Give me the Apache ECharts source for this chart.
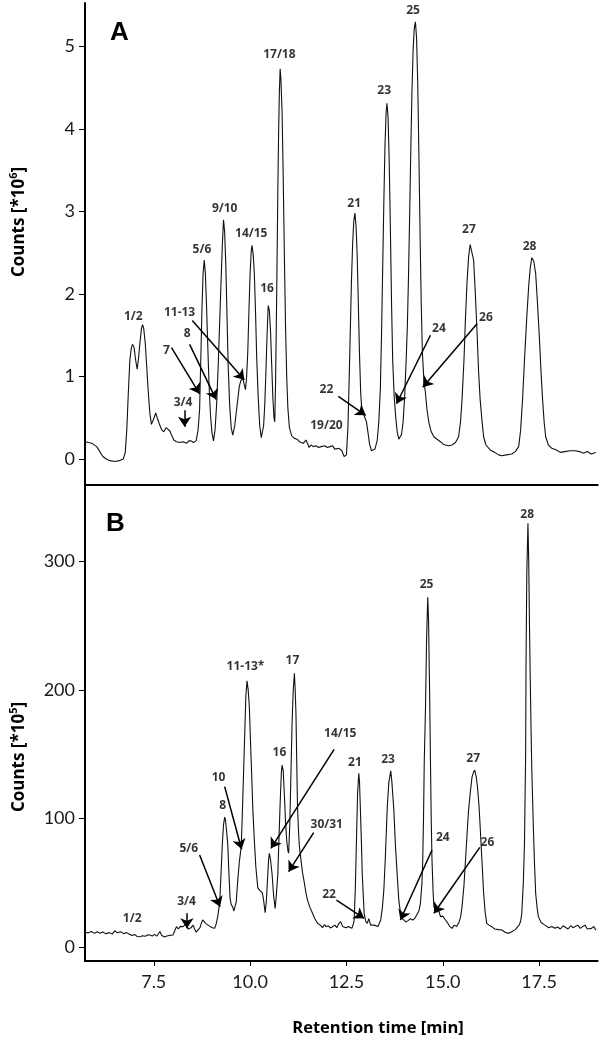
<!DOCTYPE html>
<html>
<head>
<meta charset="utf-8">
<script src="https://cdn.jsdelivr.net/npm/echarts@6/dist/echarts.min.js"></script>
<style>
html,body{margin:0;padding:0;background:#fff;}
#chart{width:600px;height:1055px;}
</style>
</head>
<body>
<div id="chart"></div>
<script>
// ---------- Panel A trace (retention time [min], counts [*10^6]) ----------
const timeA = [5.72,5.80,5.90,6.02,6.10,6.18,6.27,6.36,6.50,6.60,6.71,6.76,6.80,6.84,6.88,6.92,6.95,6.99,7.03,7.07,7.10,7.14,7.18,7.21,7.24,7.28,7.32,7.36,7.40,7.44,7.47,7.51,7.55,7.59,7.64,7.70,7.76,7.82,7.87,7.92,7.96,8.02,8.09,8.18,8.26,8.35,8.41,8.47,8.53,8.60,8.65,8.69,8.72,8.75,8.78,8.81,8.84,8.87,8.90,8.93,8.97,9.01,9.05,9.09,9.13,9.17,9.21,9.25,9.28,9.31,9.34,9.37,9.40,9.43,9.47,9.51,9.55,9.60,9.64,9.68,9.72,9.76,9.81,9.85,9.88,9.91,9.94,9.97,10.00,10.03,10.05,10.08,10.11,10.14,10.17,10.21,10.25,10.29,10.31,10.35,10.38,10.41,10.44,10.47,10.50,10.53,10.56,10.59,10.62,10.64,10.66,10.68,10.70,10.72,10.74,10.76,10.78,10.80,10.83,10.86,10.89,10.92,10.95,10.98,11.02,11.08,11.15,11.22,11.28,11.32,11.38,11.45,11.50,11.53,11.58,11.64,11.71,11.78,11.84,11.88,11.94,12.00,12.07,12.14,12.20,12.25,12.31,12.38,12.44,12.47,12.50,12.54,12.57,12.60,12.63,12.66,12.69,12.72,12.75,12.78,12.81,12.84,12.87,12.90,12.94,12.98,13.02,13.06,13.10,13.15,13.19,13.24,13.30,13.34,13.38,13.41,13.44,13.47,13.50,13.53,13.55,13.58,13.61,13.64,13.67,13.70,13.74,13.78,13.82,13.86,13.89,13.93,13.97,14.01,14.05,14.08,14.11,14.14,14.17,14.20,14.23,14.26,14.29,14.32,14.35,14.38,14.41,14.44,14.47,14.51,14.55,14.59,14.64,14.70,14.77,14.85,14.94,15.01,15.07,15.15,15.24,15.33,15.41,15.46,15.50,15.55,15.59,15.63,15.67,15.71,15.73,15.76,15.80,15.84,15.89,15.93,15.97,16.02,16.06,16.12,16.23,16.35,16.45,16.53,16.65,16.79,16.88,16.97,17.02,17.07,17.12,17.18,17.23,17.27,17.31,17.33,17.36,17.41,17.45,17.50,17.55,17.59,17.63,17.67,17.74,17.83,17.95,18.05,18.17,18.30,18.43,18.55,18.65,18.75,18.85,18.90,18.97];
const countsA = [0.21,0.20,0.19,0.15,0.09,0.03,0.00,-0.02,-0.03,-0.02,0.00,0.08,0.35,0.80,1.20,1.35,1.39,1.35,1.20,1.09,1.20,1.40,1.58,1.63,1.58,1.40,1.10,0.80,0.55,0.42,0.40,0.50,0.56,0.50,0.43,0.36,0.33,0.38,0.39,0.34,0.29,0.23,0.21,0.20,0.21,0.19,0.22,0.22,0.20,0.22,0.35,0.60,1.20,1.80,2.25,2.41,2.25,1.85,1.40,0.96,0.55,0.32,0.22,0.35,0.65,1.10,1.65,2.20,2.60,2.90,2.75,2.35,1.75,1.15,0.65,0.38,0.29,0.40,0.56,0.72,0.88,0.95,0.98,0.90,0.84,1.00,1.30,1.80,2.25,2.52,2.59,2.48,2.25,1.80,1.25,0.75,0.40,0.26,0.24,0.40,0.65,1.05,1.50,1.86,1.80,1.55,1.15,0.75,0.50,0.45,0.90,1.60,2.40,3.25,3.95,4.45,4.73,4.60,4.20,3.40,2.45,1.60,1.00,0.62,0.38,0.28,0.25,0.24,0.21,0.21,0.19,0.23,0.18,0.14,0.17,0.15,0.16,0.14,0.15,0.15,0.16,0.14,0.15,0.16,0.12,0.14,0.13,0.10,0.03,0.01,0.05,0.40,0.95,1.55,2.15,2.60,2.88,2.98,2.82,2.45,1.85,1.25,0.80,0.58,0.55,0.50,0.45,0.32,0.18,0.10,0.09,0.12,0.23,0.45,0.85,1.50,2.30,3.10,3.80,4.20,4.31,4.15,3.60,2.80,1.90,1.20,0.75,0.50,0.32,0.24,0.22,0.30,0.45,0.75,1.20,1.60,2.20,2.95,3.75,4.45,4.95,5.22,5.30,5.10,4.55,3.70,2.75,1.90,1.30,0.95,0.80,0.60,0.44,0.33,0.27,0.24,0.21,0.18,0.17,0.16,0.17,0.20,0.27,0.45,0.72,1.20,1.72,2.15,2.45,2.60,2.62,2.58,2.41,2.05,1.53,1.05,0.72,0.45,0.27,0.17,0.11,0.08,0.05,0.04,0.05,0.06,0.09,0.15,0.35,0.72,1.20,1.72,2.10,2.32,2.44,2.45,2.40,2.25,1.95,1.53,1.05,0.72,0.45,0.27,0.17,0.13,0.11,0.08,0.09,0.10,0.10,0.09,0.07,0.09,0.06,0.05,0.08];

// ---------- Panel B trace (retention time [min], counts [*10^5]) ----------
const timeB = [5.72,5.80,5.88,5.96,6.04,6.10,6.18,6.26,6.34,6.42,6.49,6.56,6.64,6.72,6.80,6.86,6.94,7.00,7.07,7.14,7.21,7.28,7.34,7.40,7.46,7.52,7.58,7.63,7.66,7.70,7.74,7.78,7.84,7.90,7.95,8.00,8.05,8.09,8.14,8.19,8.26,8.31,8.35,8.39,8.43,8.47,8.52,8.56,8.60,8.65,8.70,8.74,8.77,8.82,8.86,8.90,8.96,9.02,9.08,9.12,9.16,9.19,9.22,9.25,9.28,9.31,9.34,9.36,9.39,9.42,9.45,9.48,9.51,9.55,9.58,9.61,9.64,9.68,9.72,9.77,9.80,9.83,9.86,9.89,9.92,9.95,9.98,10.01,10.04,10.07,10.11,10.15,10.20,10.25,10.29,10.32,10.35,10.39,10.42,10.46,10.48,10.50,10.53,10.57,10.61,10.65,10.68,10.72,10.75,10.78,10.81,10.83,10.86,10.89,10.92,10.95,10.98,11.00,11.03,11.06,11.09,11.12,11.15,11.17,11.19,11.21,11.23,11.26,11.28,11.32,11.36,11.41,11.45,11.49,11.55,11.62,11.68,11.75,11.82,11.88,11.93,11.97,12.03,12.08,12.14,12.20,12.25,12.30,12.35,12.40,12.45,12.49,12.55,12.60,12.64,12.68,12.70,12.73,12.76,12.79,12.82,12.84,12.86,12.89,12.91,12.94,12.96,13.00,13.04,13.08,13.13,13.18,13.22,13.26,13.32,13.39,13.43,13.47,13.51,13.56,13.60,13.65,13.68,13.73,13.77,13.82,13.86,13.91,13.95,13.99,14.04,14.10,14.16,14.22,14.28,14.33,14.38,14.42,14.46,14.48,14.50,14.52,14.55,14.58,14.61,14.63,14.66,14.68,14.70,14.72,14.75,14.77,14.81,14.85,14.89,14.94,15.00,15.07,15.12,15.18,15.24,15.30,15.36,15.41,15.46,15.50,15.55,15.59,15.63,15.67,15.72,15.76,15.80,15.83,15.87,15.90,15.94,15.97,16.02,16.06,16.10,16.14,16.20,16.27,16.35,16.45,16.53,16.62,16.71,16.80,16.88,16.92,16.98,17.02,17.05,17.09,17.12,17.15,17.16,17.18,17.21,17.23,17.25,17.27,17.29,17.31,17.35,17.38,17.41,17.45,17.48,17.55,17.65,17.75,17.83,17.91,17.98,18.05,18.12,18.17,18.25,18.32,18.38,18.43,18.50,18.57,18.63,18.69,18.75,18.80,18.86,18.92,18.97];
const countsB = [11.4,11.0,12.0,10.6,11.8,10.6,11.6,10.2,11.2,10.0,12.6,11.0,11.8,10.4,11.2,10.0,9.0,9.8,8.2,8.0,8.8,8.4,9.4,9.3,8.6,9.8,8.4,9.0,12.0,9.2,8.0,7.8,8.6,9.0,10.5,9.3,13.0,15.8,14.0,16.0,15.8,16.5,18.4,14.0,12.6,15.0,17.0,14.0,11.5,11.4,15.0,19.0,21.0,20.0,18.0,18.4,16.0,15.0,14.5,18.0,23.6,30.0,40.0,60.0,80.6,95.0,101.0,99.0,90.0,80.0,58.0,38.0,33.0,31.0,28.0,26.7,35.0,52.0,66.0,78.0,105.0,135.0,165.0,195.0,207.0,200.0,187.0,160.0,135.0,108.0,83.0,62.0,46.0,44.0,44.3,42.0,36.5,26.7,35.0,57.0,68.0,72.9,68.0,57.0,40.0,30.0,40.0,57.0,85.0,112.0,135.0,141.5,137.0,118.0,97.0,83.0,75.0,73.0,95.0,135.0,175.0,200.0,212.8,200.0,182.0,145.0,109.0,88.0,78.0,67.7,58.0,49.5,42.0,36.5,31.0,26.2,22.0,18.4,17.0,15.0,17.5,15.8,16.5,14.8,15.8,17.0,15.0,18.0,19.7,16.0,16.8,15.0,16.0,15.5,14.5,18.0,21.0,45.0,83.0,120.0,135.0,128.0,109.0,80.0,57.0,38.0,26.2,20.0,18.4,22.0,17.0,15.5,17.0,18.4,16.0,21.0,30.0,44.0,70.0,109.0,128.0,137.0,128.0,106.5,80.0,54.7,36.0,24.9,22.0,21.0,19.5,20.5,22.0,21.0,22.5,23.6,28.0,34.0,50.0,67.7,100.0,145.0,184.0,240.0,272.0,255.0,195.0,145.0,100.0,67.7,42.0,31.3,30.0,27.0,29.0,23.6,24.0,21.0,19.0,16.0,14.5,17.0,16.0,18.4,23.0,31.3,48.0,67.7,88.0,106.5,122.0,132.4,136.0,137.6,132.0,124.6,110.0,93.5,65.0,41.8,27.0,18.4,17.0,15.8,14.0,13.5,13.2,11.5,10.6,12.0,13.5,14.5,17.0,20.0,26.2,50.0,80.6,150.0,218.0,290.0,329.5,300.0,250.0,207.6,170.0,137.6,93.5,65.0,41.8,30.0,23.6,19.0,17.0,15.0,16.0,14.5,15.5,14.0,16.5,15.8,14.0,16.5,15.0,14.5,17.0,14.5,16.0,17.0,14.0,15.5,14.5,16.0,13.0];

// ---------- Axis ticks ----------
const xTicks = [7.5, 10.0, 12.5, 15.0, 17.5];
const yTicksA = [0, 1, 2, 3, 4, 5];
const yTicksB = [0, 100, 200, 300];

// ---------- Peak labels (text, time, counts) ----------
const peakNamesA = ['1/2','5/6','9/10','14/15','16','17/18','21','23','25','27','28','11-13','8','7','3/4','19/20','22','24','26'];
const peakTimeA  = [6.97,8.75,9.34,10.03,10.44,10.76,12.70,13.48,14.23,15.68,17.25,8.17,8.37,7.83,8.26,11.98,11.98,14.90,16.12];
const peakCountA = [1.73,2.54,3.04,2.73,2.06,4.90,3.09,4.47,5.43,2.78,2.58,1.77,1.52,1.31,0.69,0.41,0.84,1.58,1.71];

const peakNamesB = ['1/2','3/4','5/6','8','10','11-13*','16','17','14/15','30/31','21','23','22','25','28','27','24','26'];
const peakTimeB  = [6.94,8.35,8.41,9.29,9.18,9.88,10.76,11.10,12.34,11.99,12.72,13.58,12.05,14.58,17.19,15.79,15.00,16.16];
const peakCountB = [22,35.2,76.7,109.6,131.7,218,151.4,222.6,166,95.4,143.6,145.4,41,282,336.5,146.7,85,81.4];

// ---------- Arrows [fromTime, fromCount, toTime, toCount] ----------
const arrowsA = [
  [7.96,1.35,8.69,0.79],
  [8.43,1.39,9.12,0.72],
  [8.50,1.68,9.85,0.96],
  [8.30,0.59,8.30,0.39],
  [12.29,0.76,13.00,0.53],
  [14.68,1.50,13.80,0.67],
  [15.89,1.64,14.48,0.87]
];
const arrowsB = [
  [8.36,26.2,8.36,14.5],
  [8.69,71.5,9.22,31.3],
  [9.34,124.7,9.78,76.0],
  [12.18,153.7,10.54,76.7],
  [11.65,88.9,11.00,58.6],
  [12.24,36.5,12.96,22.3],
  [14.72,75.4,13.90,21.0],
  [15.96,77.5,14.77,26.2]
];

const zip = (a, b) => a.map((v, i) => [v, b[i]]);
const labelPts = (n, t, c) => n.map((name, i) => ({name: name, value: [t[i], c[i]]}));
const arrowData = arr => arr.map(a => [{coord: [a[0], a[1]]}, {coord: [a[2], a[3]]}]);

const FONT = 'Lato, "Liberation Sans", sans-serif';
const BOLD = '"Open Sans", "Liberation Sans", sans-serif';
const tickFont = {fontFamily: FONT, fontSize: 18, color: '#1a1a1a'};

function markLineCfg(arr) {
  return {
    silent: true,
    animation: false,
    symbol: ['none', 'arrow'],
    symbolSize: 10,
    label: {show: false},
    lineStyle: {color: '#000', width: 1.5, type: 'solid'},
    emphasis: {disabled: true},
    data: arrowData(arr)
  };
}

const chart = echarts.init(document.getElementById('chart'), null, {renderer: 'canvas'});
const XMIN = 5.716, XMAX = 19.02;
const peakLabel = {show: true, position: 'inside', formatter: '{b}', fontFamily: BOLD,
  fontWeight: 'bold', fontSize: 12, color: '#000'};
const richTitle = {
  a: {fontFamily: BOLD, fontWeight: 'bold', fontSize: 17, fill: '#000', lineHeight: 22},
  s: {fontFamily: BOLD, fontWeight: 'bold', fontSize: 11, fill: '#000', verticalAlign: 'top', lineHeight: 22}
};

chart.setOption({
  animation: false,
  backgroundColor: '#fff',
  grid: [
    {left: 85, right: 2.3, top: 3, height: 482},
    {left: 85, right: 2.3, top: 485, height: 476}
  ],
  xAxis: [
    {
      type: 'value', gridIndex: 0, min: XMIN, max: XMAX,
      axisLine: {show: true, onZero: false, lineStyle: {color: '#000', width: 2}},
      axisTick: {show: false}, axisLabel: {show: false}, splitLine: {show: false}
    },
    {
      type: 'value', gridIndex: 1, min: XMIN, max: XMAX,
      axisLine: {show: true, onZero: false, lineStyle: {color: '#000', width: 2}},
      axisTick: {show: true, customValues: xTicks, length: 5, lineStyle: {color: '#000', width: 1}},
      axisLabel: Object.assign({show: true, customValues: xTicks, margin: 12,
        formatter: v => Number(v).toFixed(1)}, tickFont),
      splitLine: {show: false}
    }
  ],
  yAxis: [
    {
      type: 'value', gridIndex: 0, min: -0.315, max: 5.527,
      axisLine: {show: true, onZero: false, lineStyle: {color: '#000', width: 2}},
      axisTick: {show: true, customValues: yTicksA, length: 6, lineStyle: {color: '#000', width: 1}},
      axisLabel: Object.assign({show: true, customValues: yTicksA, margin: 10}, tickFont),
      splitLine: {show: false}
    },
    {
      type: 'value', gridIndex: 1, min: -10.9, max: 359.3,
      axisLine: {show: true, onZero: false, lineStyle: {color: '#000', width: 2}},
      axisTick: {show: true, customValues: yTicksB, length: 6, lineStyle: {color: '#000', width: 1}},
      axisLabel: Object.assign({show: true, customValues: yTicksB, margin: 10}, tickFont),
      splitLine: {show: false}
    }
  ],
  series: [
    {
      type: 'line', xAxisIndex: 0, yAxisIndex: 0, data: zip(timeA, countsA),
      symbol: 'none', silent: true, lineStyle: {color: '#111', width: 1.1},
      markLine: markLineCfg(arrowsA)
    },
    {
      type: 'line', xAxisIndex: 1, yAxisIndex: 1, data: zip(timeB, countsB),
      symbol: 'none', silent: true, lineStyle: {color: '#111', width: 1.1},
      markLine: markLineCfg(arrowsB)
    },
    {
      type: 'scatter', xAxisIndex: 0, yAxisIndex: 0, symbolSize: 0, silent: true,
      data: labelPts(peakNamesA, peakTimeA, peakCountA), label: peakLabel
    },
    {
      type: 'scatter', xAxisIndex: 1, yAxisIndex: 1, symbolSize: 0, silent: true,
      data: labelPts(peakNamesB, peakTimeB, peakCountB), label: peakLabel
    }
  ],
  graphic: [
    {type: 'text', left: 110, top: 20, style: {text: 'A', font: 'bold 26px "Liberation Sans", Arial, sans-serif', fill: '#000'}},
    {type: 'text', left: 106, top: 511, style: {text: 'B', font: 'bold 26px "Liberation Sans", Arial, sans-serif', fill: '#000'}},
    {type: 'text', x: 19, y: 222, rotation: Math.PI / 2,
      style: {text: '{a|Counts [*10}{s|6}{a|]}', align: 'center', verticalAlign: 'middle', rich: richTitle}},
    {type: 'text', x: 19, y: 757, rotation: Math.PI / 2,
      style: {text: '{a|Counts [*10}{s|5}{a|]}', align: 'center', verticalAlign: 'middle', rich: richTitle}},
    {type: 'text', x: 378, y: 1028,
      style: {text: 'Retention time [min]', align: 'center', verticalAlign: 'middle',
        font: 'bold 16.5px "Open Sans", "Liberation Sans", sans-serif', fill: '#000'}}
  ]
});
</script>
</body>
</html>
